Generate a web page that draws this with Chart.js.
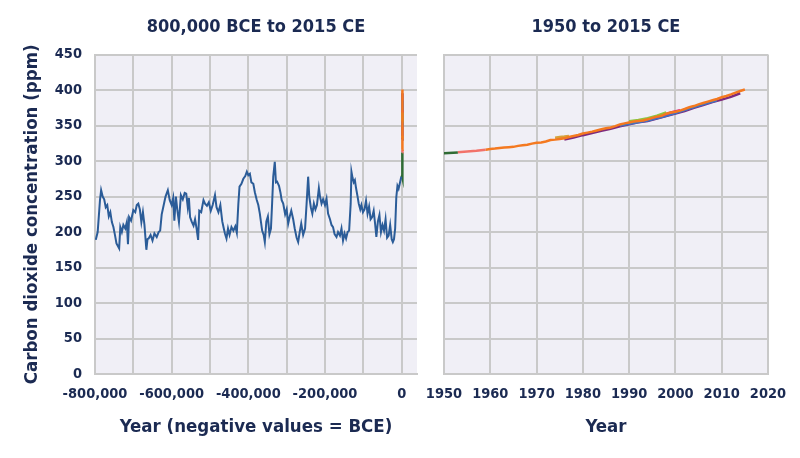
<!DOCTYPE html>
<html>
<head>
<meta charset="utf-8">
<script src="https://cdn.jsdelivr.net/npm/chart.js@4/dist/chart.umd.min.js"></script>
<style>
  body { margin: 0; background: #fff; }
  #wrap { position: relative; width: 800px; height: 458px; }
  .caixa { position: absolute; top: 0; height: 458px; }
  #esquerda { left: 0; width: 432px; }
  #direita { left: 410px; width: 390px; }
</style>
</head>
<body>
<div id="wrap">
  <div class="caixa" id="esquerda"><canvas data-js="grafico-longo"></canvas></div>
  <div class="caixa" id="direita"><canvas data-js="grafico-recente"></canvas></div>
</div>
<script>
// ice core record, years (negative = BCE) and ppm
const iceCoreYears = [-798000, -793000, -787000, -784000, -780000, -776000, -772000, -768000, -764000, -760000,
    -756000, -752000, -748000, -744000, -740000, -737000, -734000, -730000, -726000, -721000,
    -717000, -714000, -711000, -706000, -700000, -695000, -691000, -687000, -683000, -679000,
    -675000, -671000, -666000, -663000, -660000, -655000, -650000, -645000, -639000, -634000,
    -630000, -626000, -622000, -616000, -610000, -605000, -600000, -596000, -593000, -589000,
    -585000, -581000, -576000, -571000, -566000, -562000, -558000, -555000, -552000, -548000,
    -543000, -539000, -535000, -531000, -528000, -523000, -517000, -513000, -508000, -503000,
    -498000, -493000, -487000, -483000, -478000, -473000, -468000, -464000, -461000, -457000,
    -453000, -449000, -444000, -439000, -434000, -430000, -426000, -423000, -418000, -413000,
    -408000, -404000, -400000, -396000, -392000, -387000, -383000, -378000, -374000, -370000,
    -367000, -364000, -360000, -357000, -353000, -349000, -345000, -341000, -338000, -335000,
    -331000, -328000, -325000, -320000, -316000, -313000, -309000, -304000, -300000, -296000,
    -292000, -288000, -283000, -279000, -274000, -270000, -266000, -262000, -257000, -252000,
    -248000, -244000, -241000, -237000, -233000, -229000, -225000, -221000, -216000, -213000,
    -209000, -205000, -200000, -196000, -192000, -187000, -183000, -179000, -175000, -170000,
    -166000, -161000, -157000, -153000, -149000, -145000, -141000, -137000, -133000, -131000,
    -128000, -125000, -122000, -119000, -115000, -112000, -108000, -105000, -101000, -97000,
    -93000, -89000, -85000, -81000, -77000, -73000, -69000, -66000, -62000, -58000,
    -54000, -50000, -46000, -42000, -38000, -34000, -30000, -26000, -23000, -20000,
    -17000, -14000, -11000, -8000, -5000, -1000];
const iceCorePpm = [189, 200, 245, 259, 250, 246, 235, 238, 222, 228,
    214, 207, 196, 184, 180, 177, 207, 200, 210, 205,
    214, 183, 221, 216, 231, 228, 238, 240, 232, 214,
    228, 210, 175, 190, 191, 196, 188, 198, 193, 200,
    202, 225, 235, 250, 259, 245, 238, 248, 216, 250,
    230, 214, 252, 246, 255, 254, 235, 248, 221, 215,
    209, 218, 205, 189, 230, 228, 245, 240, 237, 242,
    230, 238, 252, 235, 228, 238, 215, 205, 198, 191,
    205, 196, 207, 202, 208, 199, 240, 264, 268, 275,
    279, 285, 280, 282, 270, 268, 256, 245, 238, 226,
    214, 202, 196, 186, 215, 222, 197, 205, 240, 278,
    299, 270, 271, 265, 255, 245, 240, 225, 232, 212,
    222, 230, 218, 205, 192, 186, 200, 212, 196, 205,
    240, 278, 250, 235, 226, 240, 232, 238, 262, 250,
    240, 246, 238, 247, 226, 218, 210, 207, 197, 193,
    200, 195, 205, 188, 198, 191, 200, 202, 240, 285,
    276, 270, 273, 262, 250, 240, 232, 238, 228, 232,
    244, 226, 236, 218, 221, 230, 210, 193, 215, 224,
    200, 210, 202, 218, 192, 195, 210, 190, 186, 190,
    205, 249, 265, 261, 268, 278];

// recent records
const lawDomeYears = [0, 1000, 1500, 1750, 1850, 1900, 1940, 1950, 1953];
const lawDomePpm = [277, 279, 282, 277, 285, 296, 310, 311, 312];

const sipleYears = [1953, 1955, 1957, 1959];
const siplePpm = [312.5, 313.5, 314.5, 316];

const maunaLoaYears = [1959, 1960, 1961, 1962, 1963, 1964, 1965, 1966, 1967, 1968,
    1969, 1970, 1971, 1972, 1973, 1974, 1975, 1976, 1977, 1978,
    1979, 1980, 1981, 1982, 1983, 1984, 1985, 1986, 1987, 1988,
    1989, 1990, 1991, 1992, 1993, 1994, 1995, 1996, 1997, 1998,
    1999, 2000, 2001, 2002, 2003, 2004, 2005, 2006, 2007, 2008,
    2009, 2010, 2011, 2012, 2013, 2014, 2015];
const maunaLoaPpm = [316.0, 316.9, 317.6, 318.5, 319.0, 319.6, 320.0, 321.4, 322.2, 323.0,
    324.6, 325.7, 326.3, 327.5, 329.7, 330.2, 331.1, 332.0, 333.8, 335.4,
    336.8, 338.8, 340.1, 341.5, 343.1, 344.7, 346.1, 347.4, 349.2, 351.6,
    353.1, 354.4, 355.6, 356.5, 357.1, 358.8, 360.8, 362.6, 363.7, 366.7,
    368.4, 369.6, 371.1, 373.3, 375.8, 377.5, 379.8, 381.9, 383.8, 385.6,
    387.4, 389.9, 391.7, 393.9, 396.5, 398.7, 400.8];

const barrowYears = [1974, 1975, 1976, 1977];
const barrowPpm = [333.0, 334.0, 334.5, 335.5];

const capeGrimYears = [1976, 1978, 1980, 1982, 1984, 1986, 1988, 1990, 1992, 1994,
    1996, 1998, 2000, 2002, 2004, 2006, 2008, 2010, 2012, 2014];
const capeGrimPpm = [330.5, 333, 336.5, 339.5, 342.5, 345.5, 349, 352, 354.5, 356.5,
    360, 363.5, 367, 370.5, 375, 379, 383, 386.5, 390.5, 395.5];

const southPoleYears = [1988, 1991, 1994, 1997, 2000, 2003, 2006, 2009];
const southPolePpm = [350, 353.5, 357, 362, 367.5, 374, 380, 385.5];

const lampedusaYears = [1993, 1995, 1997, 1999, 2001];
const lampedusaPpm = [357.5, 361, 364, 368.5, 371.5];

const shetlandYears = [1990, 1992, 1994, 1996, 1998];
const shetlandPpm = [356, 358, 360.5, 364, 368.5];

// x ticks of the long panel
const longTickValues = [-800000, -700000, -600000, -500000, -400000, -300000, -200000, -100000, 0];
const longTickLabels = ['-800,000', '', '-600,000', '', '-400,000', '', '-200,000', '', '0'];

const corTexto = '#1b2a52';
const corGrade = '#c9c9c9';
const fonte = "'Liberation Sans Narrow', 'DejaVu Sans Condensed', sans-serif";

function pontos(anos, valores) {
    return anos.map((ano, i) => ({ x: ano, y: valores[i] }));
}

function serie(rotulo, anos, valores, cor, largura) {
    return {
        label: rotulo,
        data: pontos(anos, valores),
        borderColor: cor,
        borderWidth: largura,
        pointRadius: 0,
        fill: false,
        tension: 0
    };
}

const fundoPlot = {
    id: 'fundoPlot',
    beforeDraw(chart) {
        const { ctx, chartArea } = chart;
        ctx.save();
        ctx.fillStyle = '#f0eff6';
        ctx.fillRect(chartArea.left, chartArea.top, chartArea.right - chartArea.left, chartArea.bottom - chartArea.top);
        ctx.restore();
    }
};

function seriesRecentes() {
    return [
        serie('Mauna Loa', maunaLoaYears, maunaLoaPpm, '#f47920', 2.5),
        serie('Barrow', barrowYears, barrowPpm, '#d6a23c', 2.5),
        serie('Shetland', shetlandYears, shetlandPpm, '#8dc63f', 2.5),
        serie('Lampedusa', lampedusaYears, lampedusaPpm, '#e2237f', 2.5),
        serie('South Pole', southPoleYears, southPolePpm, '#3e74c2', 2.5),
        serie('Cape Grim', capeGrimYears, capeGrimPpm, '#7d2a7e', 2.5),
        serie('Siple', sipleYears, siplePpm, '#f2726a', 2.5),
        serie('Law Dome', lawDomeYears, lawDomePpm, '#2f6b34', 2.5)
    ];
}

const fonteTitulo = { family: fonte, size: 18, weight: 'bold' };
const fonteEixo = { family: fonte, size: 18.5, weight: 'bold' };
const fonteTick = { family: fonte, size: 14.5, weight: 'bold' };

const graficoLongo = new Chart(document.querySelector('[data-js="grafico-longo"]'), {
    type: 'line',
    data: {
        datasets: [
            serie('Ice cores', iceCoreYears, iceCorePpm, '#2b5c98', 2),
            ...seriesRecentes()
        ]
    },
    options: {
        animation: false,
        responsive: true,
        maintainAspectRatio: false,
        layout: { padding: { left: 0, right: 15, top: 0, bottom: 0 } },
        plugins: {
            legend: { display: false },
            tooltip: { enabled: false },
            title: {
                display: true,
                text: '800,000 BCE to 2015 CE',
                fullSize: false,
                color: corTexto,
                font: fonteTitulo,
                padding: { top: 17, bottom: 16 }
            }
        },
        scales: {
            x: {
                type: 'linear',
                min: -800000,
                max: 40000,
                border: { color: corGrade, width: 2 },
                grid: { color: corGrade, lineWidth: 2, drawTicks: false },
                afterBuildTicks: (s) => { s.ticks = longTickValues.map((v) => ({ value: v })); },
                ticks: {
                    autoSkip: false,
                    maxRotation: 0,
                    align: 'center',
                    padding: 12,
                    color: corTexto,
                    font: fonteTick,
                    callback: (v, i) => longTickLabels[i]
                },
                title: {
                    display: true,
                    text: 'Year (negative values = BCE)',
                    color: corTexto,
                    font: fonteEixo,
                    padding: { top: 0, bottom: 20 }
                },
                afterFit: (s) => { s.height = 84; }
            },
            y: {
                min: 0,
                max: 450,
                border: { color: corGrade, width: 2 },
                grid: { color: corGrade, lineWidth: 2, drawTicks: false },
                ticks: { stepSize: 50, padding: 13, color: corTexto, font: fonteTick },
                title: {
                    display: true,
                    text: 'Carbon dioxide concentration (ppm)',
                    color: corTexto,
                    font: fonteEixo,
                    padding: { top: 21, bottom: 0 }
                },
                afterFit: (s) => { s.width = 95; }
            }
        }
    },
    plugins: [fundoPlot]
});

const graficoRecente = new Chart(document.querySelector('[data-js="grafico-recente"]'), {
    type: 'line',
    data: { datasets: seriesRecentes() },
    options: {
        animation: false,
        responsive: true,
        maintainAspectRatio: false,
        layout: { padding: { left: 0, right: 32, top: 0, bottom: 0 } },
        plugins: {
            legend: { display: false },
            tooltip: { enabled: false },
            title: {
                display: true,
                text: '1950 to 2015 CE',
                fullSize: false,
                color: corTexto,
                font: fonteTitulo,
                padding: { top: 17, bottom: 16 }
            }
        },
        scales: {
            x: {
                type: 'linear',
                min: 1950,
                max: 2020,
                border: { color: corGrade, width: 2 },
                grid: { color: corGrade, lineWidth: 2, drawTicks: false },
                ticks: {
                    stepSize: 10,
                    autoSkip: false,
                    maxRotation: 0,
                    padding: 12,
                    color: corTexto,
                    font: fonteTick,
                    callback: (v) => String(v)
                },
                title: {
                    display: true,
                    text: 'Year',
                    color: corTexto,
                    font: fonteEixo,
                    padding: { top: 0, bottom: 20 }
                },
                afterFit: (s) => { s.height = 84; }
            },
            y: {
                min: 0,
                max: 450,
                border: { color: corGrade, width: 2 },
                grid: { color: corGrade, lineWidth: 2, drawTicks: false },
                ticks: { stepSize: 50, display: false },
                afterFit: (s) => { s.width = 34; }
            }
        }
    },
    plugins: [fundoPlot]
});
</script>
</body>
</html>
